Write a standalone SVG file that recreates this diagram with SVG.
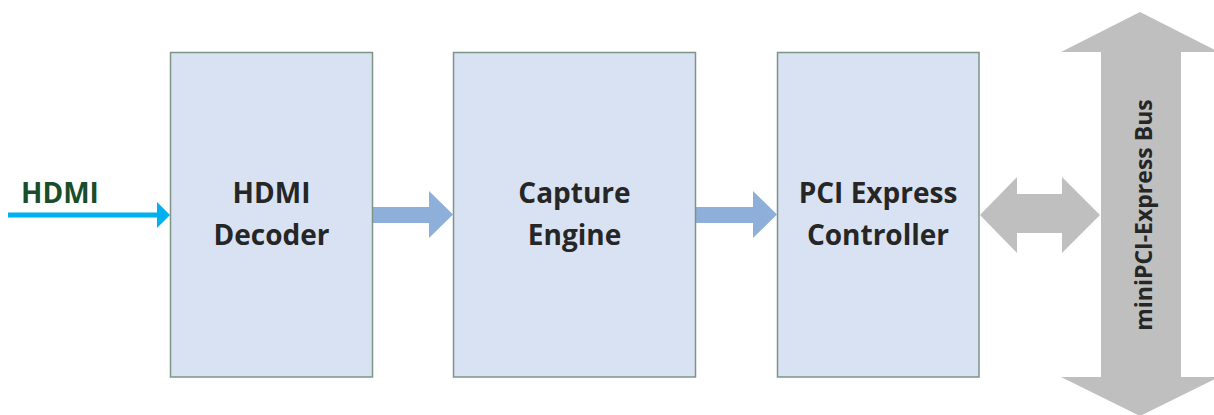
<svg xmlns="http://www.w3.org/2000/svg" width="1214" height="415" viewBox="0 0 1214 415">
<style>
.box{fill:#D9E2F2;stroke:#7C9587;stroke-width:1.5}
.lbl{font-family:"Open Sans","Liberation Sans",sans-serif;font-weight:bold;font-size:28px;fill:#262626;text-anchor:middle}
.flow{fill:#8EAFDA}
.bus{fill:#BFBFBF}
</style>
<rect width="1214" height="415" fill="#FFFFFF"/>
<g id="connectors">
<line x1="8" y1="215" x2="158" y2="215" stroke="#00B0F0" stroke-width="5"/>
<polygon points="157,202 170,215 157,228" fill="#00B0F0"/>
<polygon class="flow" points="373,207 429,207 429,191 453,214.5 429,238 429,223 373,223"/>
<polygon class="flow" points="696,207 753,207 753,191 777,214.5 753,238 753,223 696,223"/>
<polygon class="bus" points="980,215 1017,177 1017,194 1062,194 1062,177 1100,215 1062,253 1062,233 1017,233 1017,253"/>
</g>
<text x="21" y="203" font-family="Open Sans, Liberation Sans, sans-serif" font-weight="bold" font-size="28" fill="#1A4D2A">HDMI</text>
<g id="hdmi-decoder">
<rect class="box" x="170.5" y="52.5" width="202" height="324.5"/>
<text class="lbl" x="271.5" y="203">HDMI</text>
<text class="lbl" x="271.5" y="245">Decoder</text>
</g>
<g id="capture-engine">
<rect class="box" x="453.5" y="52.5" width="242" height="324.5"/>
<text class="lbl" x="574.5" y="203">Capture</text>
<text class="lbl" x="574.5" y="245">Engine</text>
</g>
<g id="pci-express-controller">
<rect class="box" x="777.5" y="52.5" width="201.5" height="324.5"/>
<text class="lbl" x="878" y="203">PCI Express</text>
<text class="lbl" x="878" y="245">Controller</text>
</g>
<g id="minipci-express-bus">
<polygon class="bus" points="1140,12 1219,52 1181,52 1181,377 1219,377 1140,416 1061,377 1101,377 1101,52 1061,52"/>
<text transform="translate(1152,215) rotate(-90)" x="0" y="0" font-family="Open Sans, Liberation Sans, sans-serif" font-weight="bold" font-size="23" fill="#262626" text-anchor="middle">miniPCI-Express Bus</text>
</g>
</svg>
